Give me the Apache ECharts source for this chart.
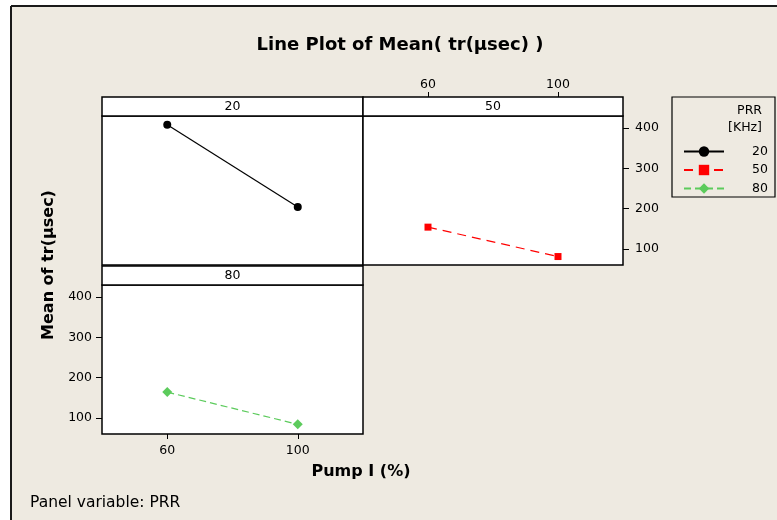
<!DOCTYPE html>
<html>
<head>
<meta charset="utf-8">
<title>Line Plot of Mean( tr(µsec) )</title>
<script src="https://cdn.jsdelivr.net/npm/echarts@6/dist/echarts.min.js"></script>
<style>
  html, body { margin: 0; padding: 0; background: #fff; }
  #chart { width: 777px; height: 520px; }
</style>
</head>
<body>
<div id="chart"></div>
<script>
// Pump current levels (x) and PRR panels
const pumpLevels = [60, 100];
const prrLevels = ['20', '50', '80'];

// Mean rise time tr (µsec) per PRR panel, at each pump level
const meanTr20 = [408, 204];
const meanTr50 = [154, 81];
const meanTr80 = [164, 84];

// Tick labels
const xTicks = [60, 100];
const yTicks = [100, 200, 300, 400];

const FONT = 'DejaVu Sans';
const BG = '#EEEAE1';

const panels = [
  { left: 102, top: 116, width: 261, height: 149 },
  { left: 363, top: 116, width: 260, height: 149 },
  { left: 102, top: 285, width: 261, height: 149 }
];
const HEADER_H = 19;

const seriesValues = [meanTr20, meanTr50, meanTr80];
const seriesStyles = [
  { color: '#000000', symbol: 'circle', symbolSize: 8, type: 'solid' },
  { color: '#FF0000', symbol: 'rect', symbolSize: 7, type: [9, 6] },
  { color: '#5CCB5C', symbol: 'diamond', symbolSize: 10, type: [7, 4] }
];

function tickStyle(show, len) {
  return { show: show, customValues: null, length: len, lineStyle: { color: '#000', width: 1 } };
}
function labelStyle(show, margin, values) {
  return { show: show, customValues: values, color: '#000', fontFamily: FONT, fontSize: 12.5, margin: margin };
}

function xAxisFor(i, position, show, margin) {
  const tick = tickStyle(show, 5);
  tick.customValues = xTicks;
  return {
    type: 'value', gridIndex: i, min: 40, max: 120,
    position: position,
    offset: position === 'top' ? HEADER_H : 0,
    splitLine: { show: false },
    axisLine: { show: false },
    axisTick: tick,
    axisLabel: labelStyle(show, margin, xTicks)
  };
}
function yAxisFor(i, position, show, margin) {
  const tick = tickStyle(show, 6);
  tick.customValues = yTicks;
  return {
    type: 'value', gridIndex: i, min: 60, max: 430,
    position: position,
    splitLine: { show: false },
    axisLine: { show: false },
    axisTick: tick,
    axisLabel: labelStyle(show, margin, yTicks)
  };
}

const xAxes = [
  xAxisFor(0, 'bottom', false, 0),
  xAxisFor(1, 'top', true, 6),
  xAxisFor(2, 'bottom', true, 10)
];
const yAxes = [
  yAxisFor(0, 'left', false, 0),
  yAxisFor(1, 'right', true, 12),
  yAxisFor(2, 'left', true, 10)
];

const series = prrLevels.map((name, i) => ({
  name: name,
  type: 'line',
  xAxisIndex: i,
  yAxisIndex: i,
  data: pumpLevels.map((p, j) => [p, seriesValues[i][j]]),
  symbol: seriesStyles[i].symbol,
  symbolSize: seriesStyles[i].symbolSize,
  itemStyle: { color: seriesStyles[i].color },
  lineStyle: { color: seriesStyles[i].color, width: 1.2, type: seriesStyles[i].type },
  animation: false
}));

// Panel header strips carrying the PRR value
const headerGraphics = [];
panels.forEach((p, i) => {
  headerGraphics.push({
    type: 'rect', z: 50,
    shape: { x: p.left, y: p.top - HEADER_H, width: p.width, height: HEADER_H },
    style: { fill: '#fff', stroke: '#000', lineWidth: 1.5 }
  });
  headerGraphics.push({
    type: 'text', z: 51,
    x: p.left + p.width / 2, y: p.top - HEADER_H / 2,
    style: { text: prrLevels[i], font: '12.5px "DejaVu Sans"', fill: '#000', align: 'center', verticalAlign: 'middle' }
  });
});

const option = {
  backgroundColor: BG,
  animation: false,
  grid: panels.map(p => ({
    left: p.left, top: p.top, width: p.width, height: p.height,
    show: true, backgroundColor: '#fff', borderColor: '#000', borderWidth: 1.5,
    containLabel: false
  })),
  xAxis: xAxes,
  yAxis: yAxes,
  series: series,
  legend: {
    orient: 'vertical',
    left: 678, top: 140,
    itemWidth: 40, itemHeight: 13, itemGap: 5.5,
    data: prrLevels,
    selectedMode: false,
    textStyle: { fontFamily: FONT, fontSize: 12.5, color: '#000', padding: [0, 0, 0, 23] }
  },
  graphic: [
    // white margin and dark frame line round the plot area
    { type: 'rect', shape: { x: 0, y: 0, width: 777, height: 6 }, style: { fill: '#fff' } },
    { type: 'rect', shape: { x: 0, y: 0, width: 11, height: 520 }, style: { fill: '#fff' } },
    { type: 'line', shape: { x1: 11, y1: 6, x2: 777, y2: 6 }, style: { stroke: '#1a1a1a', lineWidth: 2 } },
    { type: 'line', shape: { x1: 11, y1: 6, x2: 11, y2: 520 }, style: { stroke: '#1a1a1a', lineWidth: 2 } },
    // main title
    {
      type: 'text', x: 400, y: 45,
      style: { text: 'Line Plot of Mean( tr(µsec) )', font: 'bold 18px "DejaVu Sans"', fill: '#000', align: 'center', verticalAlign: 'middle' }
    },
    // y axis title
    {
      type: 'text', x: 49, y: 265, rotation: Math.PI / 2,
      style: { text: 'Mean of tr(µsec)', font: 'bold 16px "DejaVu Sans"', fill: '#000', align: 'center', verticalAlign: 'middle' }
    },
    // x axis title
    {
      type: 'text', x: 361, y: 472,
      style: { text: 'Pump I (%)', font: 'bold 16px "DejaVu Sans"', fill: '#000', align: 'center', verticalAlign: 'middle' }
    },
    // panel note
    {
      type: 'text', x: 30, y: 503,
      style: { text: 'Panel variable: PRR', font: '15.5px "DejaVu Sans"', fill: '#000', align: 'left', verticalAlign: 'middle' }
    },
    // legend box and heading
    {
      type: 'rect', z: 1,
      shape: { x: 672, y: 97, width: 103, height: 100 },
      style: { fill: 'rgba(0,0,0,0)', stroke: '#000', lineWidth: 1.2 }
    },
    {
      type: 'text', x: 762, y: 111,
      style: { text: 'PRR', font: '12.5px "DejaVu Sans"', fill: '#000', align: 'right', verticalAlign: 'middle' }
    },
    {
      type: 'text', x: 762, y: 128,
      style: { text: '[KHz]', font: '12.5px "DejaVu Sans"', fill: '#000', align: 'right', verticalAlign: 'middle' }
    }
  ].concat(headerGraphics)
};

const chart = echarts.init(document.getElementById('chart'), null, { renderer: 'canvas' });
chart.setOption(option);
</script>
</body>
</html>
